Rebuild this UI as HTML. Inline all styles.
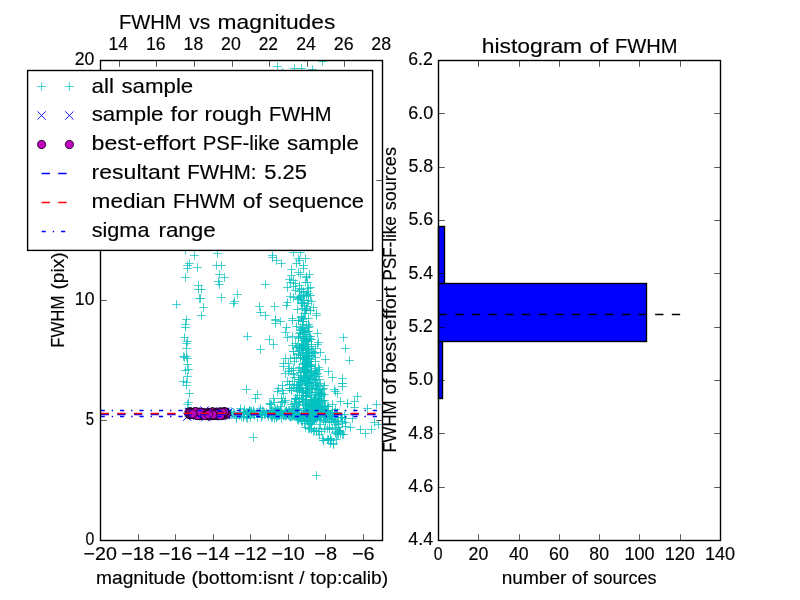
<!DOCTYPE html>
<html lang="en">
<head>
<meta charset="utf-8">
<title>FWHM vs magnitudes</title>
<style>
html,body{margin:0;padding:0;background:#fff;}
body{width:800px;height:600px;overflow:hidden;font-family:"Liberation Sans",sans-serif;}
svg{display:block;will-change:transform;}
svg text{font-family:"Liberation Sans",sans-serif;fill:#000;stroke:#000;stroke-width:0.15px;}
</style>
</head>
<body>
<svg width="800" height="600" viewBox="0 0 800 600">
<defs>
<clipPath id="clipL"><rect x="100.00" y="60.00" width="281.82" height="480.00"/></clipPath>
<path id="pl" d="M-4.3 0H4.3M0 -4.3V4.3" stroke="#00bfbf" stroke-width="1" stroke-opacity="0.72" fill="none"/>
<path id="xx" d="M-4.17 -4.17L4.17 4.17M-4.17 4.17L4.17 -4.17" stroke="#0000ff" stroke-width="0.9" fill="none"/>
<circle id="ci" r="4.17" fill="#bf00bf" stroke="#000" stroke-width="0.75"/>
</defs>
<rect width="800" height="600" fill="#fff"/>
<g id="left-axes">
<rect x="100.00" y="60.00" width="281.82" height="480.00" fill="#fff"/>
<g clip-path="url(#clipL)">
<use href="#pl" x="185.5" y="250.5"/><use href="#pl" x="194.5" y="255.5"/><use href="#pl" x="217.5" y="253.5"/><use href="#pl" x="189.5" y="263.5"/><use href="#pl" x="187.5" y="265.5"/><use href="#pl" x="187.5" y="268.5"/><use href="#pl" x="197.5" y="267.5"/><use href="#pl" x="216.5" y="265.5"/><use href="#pl" x="221.5" y="265.5"/><use href="#pl" x="185.5" y="277.5"/><use href="#pl" x="219.5" y="274.5"/><use href="#pl" x="224.5" y="277.5"/><use href="#pl" x="218.5" y="281.5"/><use href="#pl" x="219.5" y="284.5"/><use href="#pl" x="198.5" y="285.5"/><use href="#pl" x="198.5" y="289.5"/><use href="#pl" x="201.5" y="289.5"/><use href="#pl" x="200.5" y="298.5"/><use href="#pl" x="199.5" y="298.5"/><use href="#pl" x="221.5" y="297.5"/><use href="#pl" x="237.5" y="294.5"/><use href="#pl" x="234.5" y="301.5"/><use href="#pl" x="233.5" y="303.5"/><use href="#pl" x="176.5" y="304.5"/><use href="#pl" x="203.5" y="307.5"/><use href="#pl" x="201.5" y="315.5"/><use href="#pl" x="186.5" y="319.5"/><use href="#pl" x="185.5" y="324.5"/><use href="#pl" x="185.5" y="327.5"/><use href="#pl" x="184.5" y="337.5"/><use href="#pl" x="187.5" y="341.5"/><use href="#pl" x="186.5" y="343.5"/><use href="#pl" x="186.5" y="348.5"/><use href="#pl" x="183.5" y="356.5"/><use href="#pl" x="186.5" y="356.5"/><use href="#pl" x="247.5" y="336.5"/><use href="#pl" x="184.5" y="357.5"/><use href="#pl" x="187.5" y="358.5"/><use href="#pl" x="187.5" y="364.5"/><use href="#pl" x="188.5" y="369.5"/><use href="#pl" x="185.5" y="370.5"/><use href="#pl" x="187.5" y="376.5"/><use href="#pl" x="183.5" y="381.5"/><use href="#pl" x="186.5" y="382.5"/><use href="#pl" x="186.5" y="385.5"/><use href="#pl" x="189.5" y="393.5"/><use href="#pl" x="188.5" y="402.5"/><use href="#pl" x="187.5" y="404.5"/><use href="#pl" x="246.5" y="389.5"/><use href="#pl" x="272.5" y="255.5"/><use href="#pl" x="272.5" y="257.5"/><use href="#pl" x="276.5" y="260.5"/><use href="#pl" x="281.5" y="263.5"/><use href="#pl" x="265.5" y="284.5"/><use href="#pl" x="259.5" y="306.5"/><use href="#pl" x="274.5" y="306.5"/><use href="#pl" x="260.5" y="312.5"/><use href="#pl" x="265.5" y="315.5"/><use href="#pl" x="275.5" y="319.5"/><use href="#pl" x="290.5" y="296.5"/><use href="#pl" x="287.5" y="302.5"/><use href="#pl" x="286.5" y="305.5"/><use href="#pl" x="293.5" y="252.5"/><use href="#pl" x="300.5" y="252.5"/><use href="#pl" x="305.5" y="258.5"/><use href="#pl" x="298.5" y="258.5"/><use href="#pl" x="299.5" y="260.5"/><use href="#pl" x="296.5" y="263.5"/><use href="#pl" x="303.5" y="265.5"/><use href="#pl" x="303.5" y="268.5"/><use href="#pl" x="291.5" y="269.5"/><use href="#pl" x="298.5" y="272.5"/><use href="#pl" x="300.5" y="274.5"/><use href="#pl" x="291.5" y="275.5"/><use href="#pl" x="309.5" y="274.5"/><use href="#pl" x="306.5" y="276.5"/><use href="#pl" x="306.5" y="277.5"/><use href="#pl" x="289.5" y="279.5"/><use href="#pl" x="293.5" y="280.5"/><use href="#pl" x="290.5" y="282.5"/><use href="#pl" x="295.5" y="283.5"/><use href="#pl" x="307.5" y="282.5"/><use href="#pl" x="305.5" y="282.5"/><use href="#pl" x="299.5" y="285.5"/><use href="#pl" x="293.5" y="286.5"/><use href="#pl" x="287.5" y="287.5"/><use href="#pl" x="310.5" y="287.5"/><use href="#pl" x="295.5" y="290.5"/><use href="#pl" x="299.5" y="291.5"/><use href="#pl" x="303.5" y="291.5"/><use href="#pl" x="308.5" y="293.5"/><use href="#pl" x="301.5" y="295.5"/><use href="#pl" x="310.5" y="295.5"/><use href="#pl" x="306.5" y="296.5"/><use href="#pl" x="297.5" y="299.5"/><use href="#pl" x="303.5" y="300.5"/><use href="#pl" x="308.5" y="300.5"/><use href="#pl" x="311.5" y="301.5"/><use href="#pl" x="301.5" y="303.5"/><use href="#pl" x="304.5" y="305.5"/><use href="#pl" x="307.5" y="303.5"/><use href="#pl" x="297.5" y="309.5"/><use href="#pl" x="302.5" y="308.5"/><use href="#pl" x="305.5" y="310.5"/><use href="#pl" x="313.5" y="307.5"/><use href="#pl" x="310.5" y="310.5"/><use href="#pl" x="316.5" y="313.5"/><use href="#pl" x="305.5" y="313.5"/><use href="#pl" x="301.5" y="317.5"/><use href="#pl" x="308.5" y="318.5"/><use href="#pl" x="292.5" y="318.5"/><use href="#pl" x="275.5" y="320.5"/><use href="#pl" x="275.5" y="323.5"/><use href="#pl" x="280.5" y="321.5"/><use href="#pl" x="292.5" y="320.5"/><use href="#pl" x="316.5" y="315.5"/><use href="#pl" x="286.5" y="327.5"/><use href="#pl" x="285.5" y="332.5"/><use href="#pl" x="287.5" y="337.5"/><use href="#pl" x="292.5" y="336.5"/><use href="#pl" x="317.5" y="333.5"/><use href="#pl" x="269.5" y="339.5"/><use href="#pl" x="273.5" y="344.5"/><use href="#pl" x="260.5" y="349.5"/><use href="#pl" x="343.5" y="337.5"/><use href="#pl" x="345.5" y="348.5"/><use href="#pl" x="349.5" y="360.5"/><use href="#pl" x="342.5" y="378.5"/><use href="#pl" x="342.5" y="383.5"/><use href="#pl" x="332.5" y="377.5"/><use href="#pl" x="328.5" y="371.5"/><use href="#pl" x="325.5" y="359.5"/><use href="#pl" x="320.5" y="352.5"/><use href="#pl" x="293.5" y="351.5"/><use href="#pl" x="285.5" y="358.5"/><use href="#pl" x="283.5" y="363.5"/><use href="#pl" x="283.5" y="366.5"/><use href="#pl" x="288.5" y="363.5"/><use href="#pl" x="285.5" y="373.5"/><use href="#pl" x="293.5" y="373.5"/><use href="#pl" x="287.5" y="381.5"/><use href="#pl" x="282.5" y="385.5"/><use href="#pl" x="292.5" y="381.5"/><use href="#pl" x="278.5" y="388.5"/><use href="#pl" x="257.5" y="394.5"/><use href="#pl" x="255.5" y="398.5"/><use href="#pl" x="269.5" y="403.5"/><use href="#pl" x="253.5" y="437.5"/><use href="#pl" x="277.5" y="391.5"/><use href="#pl" x="282.5" y="390.5"/><use href="#pl" x="323.5" y="440.5"/><use href="#pl" x="333.5" y="443.5"/><use href="#pl" x="330.5" y="438.5"/><use href="#pl" x="343.5" y="434.5"/><use href="#pl" x="347.5" y="403.5"/><use href="#pl" x="342.5" y="386.5"/><use href="#pl" x="335.5" y="391.5"/><use href="#pl" x="305.5" y="427.5"/><use href="#pl" x="342.5" y="383.5"/><use href="#pl" x="334.5" y="389.5"/><use href="#pl" x="337.5" y="393.5"/><use href="#pl" x="357.5" y="396.5"/><use href="#pl" x="354.5" y="401.5"/><use href="#pl" x="347.5" y="403.5"/><use href="#pl" x="340.5" y="401.5"/><use href="#pl" x="354.5" y="407.5"/><use href="#pl" x="367.5" y="408.5"/><use href="#pl" x="376.5" y="404.5"/><use href="#pl" x="352.5" y="418.5"/><use href="#pl" x="374.5" y="422.5"/><use href="#pl" x="378.5" y="424.5"/><use href="#pl" x="371.5" y="429.5"/><use href="#pl" x="360.5" y="429.5"/><use href="#pl" x="365.5" y="433.5"/><use href="#pl" x="350.5" y="427.5"/><use href="#pl" x="345.5" y="426.5"/><use href="#pl" x="342.5" y="434.5"/><use href="#pl" x="340.5" y="433.5"/><use href="#pl" x="323.5" y="440.5"/><use href="#pl" x="333.5" y="444.5"/><use href="#pl" x="330.5" y="438.5"/><use href="#pl" x="342.5" y="421.5"/><use href="#pl" x="344.5" y="414.5"/><use href="#pl" x="316.5" y="475.5"/><use href="#pl" x="277.5" y="66.5"/><use href="#pl" x="282.5" y="72.5"/><use href="#pl" x="294.5" y="68.5"/><use href="#pl" x="301.5" y="68.5"/><use href="#pl" x="312.5" y="69.5"/><use href="#pl" x="322.5" y="61.5"/><use href="#pl" x="304.5" y="57.5"/><use href="#pl" x="311.5" y="364.5"/><use href="#pl" x="309.5" y="336.5"/><use href="#pl" x="307.5" y="381.5"/><use href="#pl" x="310.5" y="379.5"/><use href="#pl" x="302.5" y="330.5"/><use href="#pl" x="305.5" y="339.5"/><use href="#pl" x="309.5" y="373.5"/><use href="#pl" x="303.5" y="355.5"/><use href="#pl" x="317.5" y="388.5"/><use href="#pl" x="304.5" y="370.5"/><use href="#pl" x="326.5" y="410.5"/><use href="#pl" x="309.5" y="361.5"/><use href="#pl" x="308.5" y="346.5"/><use href="#pl" x="314.5" y="400.5"/><use href="#pl" x="299.5" y="350.5"/><use href="#pl" x="303.5" y="368.5"/><use href="#pl" x="310.5" y="382.5"/><use href="#pl" x="306.5" y="353.5"/><use href="#pl" x="303.5" y="392.5"/><use href="#pl" x="311.5" y="385.5"/><use href="#pl" x="304.5" y="375.5"/><use href="#pl" x="321.5" y="393.5"/><use href="#pl" x="300.5" y="357.5"/><use href="#pl" x="306.5" y="404.5"/><use href="#pl" x="305.5" y="395.5"/><use href="#pl" x="318.5" y="342.5"/><use href="#pl" x="307.5" y="372.5"/><use href="#pl" x="304.5" y="378.5"/><use href="#pl" x="300.5" y="330.5"/><use href="#pl" x="298.5" y="384.5"/><use href="#pl" x="306.5" y="404.5"/><use href="#pl" x="318.5" y="386.5"/><use href="#pl" x="296.5" y="385.5"/><use href="#pl" x="315.5" y="408.5"/><use href="#pl" x="306.5" y="377.5"/><use href="#pl" x="307.5" y="393.5"/><use href="#pl" x="322.5" y="389.5"/><use href="#pl" x="306.5" y="361.5"/><use href="#pl" x="306.5" y="370.5"/><use href="#pl" x="306.5" y="376.5"/><use href="#pl" x="306.5" y="349.5"/><use href="#pl" x="311.5" y="397.5"/><use href="#pl" x="305.5" y="344.5"/><use href="#pl" x="318.5" y="404.5"/><use href="#pl" x="298.5" y="337.5"/><use href="#pl" x="313.5" y="405.5"/><use href="#pl" x="314.5" y="401.5"/><use href="#pl" x="303.5" y="372.5"/><use href="#pl" x="318.5" y="367.5"/><use href="#pl" x="296.5" y="347.5"/><use href="#pl" x="305.5" y="350.5"/><use href="#pl" x="312.5" y="378.5"/><use href="#pl" x="308.5" y="385.5"/><use href="#pl" x="308.5" y="372.5"/><use href="#pl" x="293.5" y="368.5"/><use href="#pl" x="302.5" y="392.5"/><use href="#pl" x="301.5" y="380.5"/><use href="#pl" x="299.5" y="333.5"/><use href="#pl" x="313.5" y="406.5"/><use href="#pl" x="295.5" y="399.5"/><use href="#pl" x="305.5" y="370.5"/><use href="#pl" x="311.5" y="388.5"/><use href="#pl" x="306.5" y="334.5"/><use href="#pl" x="306.5" y="348.5"/><use href="#pl" x="307.5" y="366.5"/><use href="#pl" x="305.5" y="347.5"/><use href="#pl" x="303.5" y="340.5"/><use href="#pl" x="312.5" y="404.5"/><use href="#pl" x="312.5" y="387.5"/><use href="#pl" x="310.5" y="366.5"/><use href="#pl" x="315.5" y="368.5"/><use href="#pl" x="322.5" y="411.5"/><use href="#pl" x="305.5" y="376.5"/><use href="#pl" x="304.5" y="340.5"/><use href="#pl" x="306.5" y="366.5"/><use href="#pl" x="315.5" y="348.5"/><use href="#pl" x="308.5" y="327.5"/><use href="#pl" x="303.5" y="346.5"/><use href="#pl" x="316.5" y="382.5"/><use href="#pl" x="312.5" y="410.5"/><use href="#pl" x="308.5" y="403.5"/><use href="#pl" x="302.5" y="368.5"/><use href="#pl" x="306.5" y="348.5"/><use href="#pl" x="301.5" y="398.5"/><use href="#pl" x="308.5" y="365.5"/><use href="#pl" x="325.5" y="411.5"/><use href="#pl" x="315.5" y="403.5"/><use href="#pl" x="297.5" y="395.5"/><use href="#pl" x="300.5" y="355.5"/><use href="#pl" x="303.5" y="328.5"/><use href="#pl" x="302.5" y="328.5"/><use href="#pl" x="315.5" y="392.5"/><use href="#pl" x="293.5" y="409.5"/><use href="#pl" x="317.5" y="411.5"/><use href="#pl" x="307.5" y="409.5"/><use href="#pl" x="308.5" y="355.5"/><use href="#pl" x="307.5" y="352.5"/><use href="#pl" x="321.5" y="406.5"/><use href="#pl" x="299.5" y="402.5"/><use href="#pl" x="311.5" y="399.5"/><use href="#pl" x="298.5" y="338.5"/><use href="#pl" x="296.5" y="398.5"/><use href="#pl" x="305.5" y="396.5"/><use href="#pl" x="310.5" y="399.5"/><use href="#pl" x="311.5" y="365.5"/><use href="#pl" x="291.5" y="370.5"/><use href="#pl" x="316.5" y="371.5"/><use href="#pl" x="302.5" y="349.5"/><use href="#pl" x="311.5" y="344.5"/><use href="#pl" x="323.5" y="400.5"/><use href="#pl" x="311.5" y="346.5"/><use href="#pl" x="291.5" y="390.5"/><use href="#pl" x="304.5" y="367.5"/><use href="#pl" x="302.5" y="324.5"/><use href="#pl" x="305.5" y="410.5"/><use href="#pl" x="303.5" y="408.5"/><use href="#pl" x="316.5" y="374.5"/><use href="#pl" x="298.5" y="353.5"/><use href="#pl" x="305.5" y="357.5"/><use href="#pl" x="313.5" y="385.5"/><use href="#pl" x="303.5" y="358.5"/><use href="#pl" x="312.5" y="406.5"/><use href="#pl" x="299.5" y="367.5"/><use href="#pl" x="313.5" y="406.5"/><use href="#pl" x="314.5" y="372.5"/><use href="#pl" x="304.5" y="381.5"/><use href="#pl" x="315.5" y="380.5"/><use href="#pl" x="306.5" y="350.5"/><use href="#pl" x="303.5" y="321.5"/><use href="#pl" x="304.5" y="377.5"/><use href="#pl" x="303.5" y="395.5"/><use href="#pl" x="306.5" y="380.5"/><use href="#pl" x="309.5" y="383.5"/><use href="#pl" x="305.5" y="383.5"/><use href="#pl" x="304.5" y="357.5"/><use href="#pl" x="319.5" y="379.5"/><use href="#pl" x="309.5" y="383.5"/><use href="#pl" x="293.5" y="374.5"/><use href="#pl" x="300.5" y="387.5"/><use href="#pl" x="309.5" y="392.5"/><use href="#pl" x="300.5" y="375.5"/><use href="#pl" x="309.5" y="408.5"/><use href="#pl" x="321.5" y="393.5"/><use href="#pl" x="296.5" y="358.5"/><use href="#pl" x="320.5" y="383.5"/><use href="#pl" x="301.5" y="345.5"/><use href="#pl" x="303.5" y="343.5"/><use href="#pl" x="306.5" y="356.5"/><use href="#pl" x="300.5" y="336.5"/><use href="#pl" x="298.5" y="405.5"/><use href="#pl" x="303.5" y="347.5"/><use href="#pl" x="297.5" y="346.5"/><use href="#pl" x="316.5" y="405.5"/><use href="#pl" x="310.5" y="409.5"/><use href="#pl" x="288.5" y="371.5"/><use href="#pl" x="312.5" y="401.5"/><use href="#pl" x="299.5" y="348.5"/><use href="#pl" x="310.5" y="366.5"/><use href="#pl" x="302.5" y="352.5"/><use href="#pl" x="309.5" y="326.5"/><use href="#pl" x="307.5" y="383.5"/><use href="#pl" x="307.5" y="365.5"/><use href="#pl" x="306.5" y="388.5"/><use href="#pl" x="311.5" y="411.5"/><use href="#pl" x="313.5" y="399.5"/><use href="#pl" x="305.5" y="359.5"/><use href="#pl" x="304.5" y="330.5"/><use href="#pl" x="301.5" y="344.5"/><use href="#pl" x="317.5" y="373.5"/><use href="#pl" x="300.5" y="358.5"/><use href="#pl" x="311.5" y="346.5"/><use href="#pl" x="305.5" y="393.5"/><use href="#pl" x="311.5" y="339.5"/><use href="#pl" x="311.5" y="373.5"/><use href="#pl" x="310.5" y="336.5"/><use href="#pl" x="306.5" y="399.5"/><use href="#pl" x="305.5" y="338.5"/><use href="#pl" x="308.5" y="403.5"/><use href="#pl" x="303.5" y="375.5"/><use href="#pl" x="319.5" y="407.5"/><use href="#pl" x="311.5" y="359.5"/><use href="#pl" x="311.5" y="356.5"/><use href="#pl" x="305.5" y="341.5"/><use href="#pl" x="307.5" y="352.5"/><use href="#pl" x="303.5" y="363.5"/><use href="#pl" x="315.5" y="361.5"/><use href="#pl" x="310.5" y="379.5"/><use href="#pl" x="306.5" y="325.5"/><use href="#pl" x="315.5" y="357.5"/><use href="#pl" x="309.5" y="382.5"/><use href="#pl" x="293.5" y="351.5"/><use href="#pl" x="306.5" y="341.5"/><use href="#pl" x="302.5" y="401.5"/><use href="#pl" x="314.5" y="402.5"/><use href="#pl" x="298.5" y="370.5"/><use href="#pl" x="310.5" y="410.5"/><use href="#pl" x="311.5" y="366.5"/><use href="#pl" x="299.5" y="389.5"/><use href="#pl" x="306.5" y="371.5"/><use href="#pl" x="306.5" y="344.5"/><use href="#pl" x="304.5" y="336.5"/><use href="#pl" x="301.5" y="348.5"/><use href="#pl" x="309.5" y="338.5"/><use href="#pl" x="297.5" y="391.5"/><use href="#pl" x="306.5" y="360.5"/><use href="#pl" x="313.5" y="376.5"/><use href="#pl" x="301.5" y="347.5"/><use href="#pl" x="313.5" y="409.5"/><use href="#pl" x="305.5" y="410.5"/><use href="#pl" x="309.5" y="409.5"/><use href="#pl" x="306.5" y="363.5"/><use href="#pl" x="307.5" y="369.5"/><use href="#pl" x="303.5" y="377.5"/><use href="#pl" x="308.5" y="379.5"/><use href="#pl" x="302.5" y="321.5"/><use href="#pl" x="310.5" y="371.5"/><use href="#pl" x="307.5" y="331.5"/><use href="#pl" x="306.5" y="356.5"/><use href="#pl" x="297.5" y="385.5"/><use href="#pl" x="307.5" y="390.5"/><use href="#pl" x="314.5" y="394.5"/><use href="#pl" x="302.5" y="364.5"/><use href="#pl" x="318.5" y="411.5"/><use href="#pl" x="318.5" y="389.5"/><use href="#pl" x="308.5" y="331.5"/><use href="#pl" x="296.5" y="388.5"/><use href="#pl" x="311.5" y="395.5"/><use href="#pl" x="305.5" y="380.5"/><use href="#pl" x="314.5" y="379.5"/><use href="#pl" x="298.5" y="401.5"/><use href="#pl" x="316.5" y="385.5"/><use href="#pl" x="302.5" y="392.5"/><use href="#pl" x="308.5" y="355.5"/><use href="#pl" x="307.5" y="367.5"/><use href="#pl" x="307.5" y="341.5"/><use href="#pl" x="301.5" y="388.5"/><use href="#pl" x="305.5" y="388.5"/><use href="#pl" x="298.5" y="320.5"/><use href="#pl" x="310.5" y="399.5"/><use href="#pl" x="300.5" y="381.5"/><use href="#pl" x="319.5" y="390.5"/><use href="#pl" x="309.5" y="358.5"/><use href="#pl" x="303.5" y="336.5"/><use href="#pl" x="314.5" y="353.5"/><use href="#pl" x="318.5" y="395.5"/><use href="#pl" x="306.5" y="369.5"/><use href="#pl" x="303.5" y="377.5"/><use href="#pl" x="298.5" y="387.5"/><use href="#pl" x="312.5" y="389.5"/><use href="#pl" x="307.5" y="358.5"/><use href="#pl" x="306.5" y="396.5"/><use href="#pl" x="308.5" y="324.5"/><use href="#pl" x="303.5" y="334.5"/><use href="#pl" x="320.5" y="392.5"/><use href="#pl" x="307.5" y="391.5"/><use href="#pl" x="315.5" y="376.5"/><use href="#pl" x="318.5" y="376.5"/><use href="#pl" x="313.5" y="352.5"/><use href="#pl" x="312.5" y="410.5"/><use href="#pl" x="307.5" y="376.5"/><use href="#pl" x="318.5" y="401.5"/><use href="#pl" x="305.5" y="359.5"/><use href="#pl" x="309.5" y="353.5"/><use href="#pl" x="307.5" y="385.5"/><use href="#pl" x="292.5" y="345.5"/><use href="#pl" x="303.5" y="344.5"/><use href="#pl" x="294.5" y="401.5"/><use href="#pl" x="308.5" y="393.5"/><use href="#pl" x="311.5" y="355.5"/><use href="#pl" x="300.5" y="327.5"/><use href="#pl" x="298.5" y="320.5"/><use href="#pl" x="307.5" y="362.5"/><use href="#pl" x="302.5" y="345.5"/><use href="#pl" x="316.5" y="402.5"/><use href="#pl" x="302.5" y="319.5"/><use href="#pl" x="295.5" y="343.5"/><use href="#pl" x="307.5" y="407.5"/><use href="#pl" x="294.5" y="361.5"/><use href="#pl" x="289.5" y="368.5"/><use href="#pl" x="324.5" y="385.5"/><use href="#pl" x="302.5" y="367.5"/><use href="#pl" x="305.5" y="332.5"/><use href="#pl" x="306.5" y="340.5"/><use href="#pl" x="305.5" y="408.5"/><use href="#pl" x="305.5" y="357.5"/><use href="#pl" x="312.5" y="351.5"/><use href="#pl" x="319.5" y="369.5"/><use href="#pl" x="306.5" y="400.5"/><use href="#pl" x="323.5" y="388.5"/><use href="#pl" x="300.5" y="382.5"/><use href="#pl" x="320.5" y="394.5"/><use href="#pl" x="311.5" y="375.5"/><use href="#pl" x="306.5" y="396.5"/><use href="#pl" x="300.5" y="332.5"/><use href="#pl" x="317.5" y="407.5"/><use href="#pl" x="311.5" y="366.5"/><use href="#pl" x="305.5" y="362.5"/><use href="#pl" x="290.5" y="358.5"/><use href="#pl" x="306.5" y="390.5"/><use href="#pl" x="315.5" y="370.5"/><use href="#pl" x="307.5" y="349.5"/><use href="#pl" x="315.5" y="406.5"/><use href="#pl" x="310.5" y="378.5"/><use href="#pl" x="328.5" y="411.5"/><use href="#pl" x="310.5" y="375.5"/><use href="#pl" x="306.5" y="339.5"/><use href="#pl" x="310.5" y="366.5"/><use href="#pl" x="308.5" y="358.5"/><use href="#pl" x="317.5" y="384.5"/><use href="#pl" x="300.5" y="372.5"/><use href="#pl" x="301.5" y="372.5"/><use href="#pl" x="306.5" y="365.5"/><use href="#pl" x="302.5" y="334.5"/><use href="#pl" x="317.5" y="344.5"/><use href="#pl" x="299.5" y="379.5"/><use href="#pl" x="298.5" y="354.5"/><use href="#pl" x="306.5" y="359.5"/><use href="#pl" x="314.5" y="374.5"/><use href="#pl" x="320.5" y="409.5"/><use href="#pl" x="296.5" y="326.5"/><use href="#pl" x="301.5" y="329.5"/><use href="#pl" x="294.5" y="377.5"/><use href="#pl" x="315.5" y="385.5"/><use href="#pl" x="311.5" y="407.5"/><use href="#pl" x="322.5" y="401.5"/><use href="#pl" x="294.5" y="357.5"/><use href="#pl" x="308.5" y="341.5"/><use href="#pl" x="316.5" y="392.5"/><use href="#pl" x="309.5" y="408.5"/><use href="#pl" x="299.5" y="397.5"/><use href="#pl" x="302.5" y="302.5"/><use href="#pl" x="304.5" y="313.5"/><use href="#pl" x="308.5" y="295.5"/><use href="#pl" x="300.5" y="297.5"/><use href="#pl" x="303.5" y="292.5"/><use href="#pl" x="310.5" y="310.5"/><use href="#pl" x="307.5" y="291.5"/><use href="#pl" x="306.5" y="306.5"/><use href="#pl" x="304.5" y="300.5"/><use href="#pl" x="308.5" y="288.5"/><use href="#pl" x="293.5" y="297.5"/><use href="#pl" x="306.5" y="308.5"/><use href="#pl" x="301.5" y="316.5"/><use href="#pl" x="303.5" y="295.5"/><use href="#pl" x="303.5" y="318.5"/><use href="#pl" x="299.5" y="288.5"/><use href="#pl" x="301.5" y="303.5"/><use href="#pl" x="299.5" y="296.5"/><use href="#pl" x="306.5" y="309.5"/><use href="#pl" x="301.5" y="289.5"/><use href="#pl" x="298.5" y="298.5"/><use href="#pl" x="306.5" y="294.5"/><use href="#pl" x="318.5" y="413.5"/><use href="#pl" x="274.5" y="411.5"/><use href="#pl" x="334.5" y="412.5"/><use href="#pl" x="276.5" y="417.5"/><use href="#pl" x="276.5" y="414.5"/><use href="#pl" x="332.5" y="412.5"/><use href="#pl" x="299.5" y="414.5"/><use href="#pl" x="293.5" y="415.5"/><use href="#pl" x="310.5" y="415.5"/><use href="#pl" x="291.5" y="413.5"/><use href="#pl" x="275.5" y="415.5"/><use href="#pl" x="251.5" y="413.5"/><use href="#pl" x="253.5" y="410.5"/><use href="#pl" x="324.5" y="417.5"/><use href="#pl" x="314.5" y="419.5"/><use href="#pl" x="286.5" y="413.5"/><use href="#pl" x="272.5" y="417.5"/><use href="#pl" x="246.5" y="412.5"/><use href="#pl" x="310.5" y="412.5"/><use href="#pl" x="286.5" y="415.5"/><use href="#pl" x="270.5" y="415.5"/><use href="#pl" x="288.5" y="414.5"/><use href="#pl" x="332.5" y="418.5"/><use href="#pl" x="274.5" y="418.5"/><use href="#pl" x="288.5" y="415.5"/><use href="#pl" x="294.5" y="410.5"/><use href="#pl" x="251.5" y="411.5"/><use href="#pl" x="328.5" y="414.5"/><use href="#pl" x="272.5" y="410.5"/><use href="#pl" x="246.5" y="417.5"/><use href="#pl" x="293.5" y="415.5"/><use href="#pl" x="249.5" y="410.5"/><use href="#pl" x="247.5" y="418.5"/><use href="#pl" x="279.5" y="415.5"/><use href="#pl" x="315.5" y="415.5"/><use href="#pl" x="281.5" y="412.5"/><use href="#pl" x="332.5" y="412.5"/><use href="#pl" x="313.5" y="412.5"/><use href="#pl" x="285.5" y="413.5"/><use href="#pl" x="315.5" y="414.5"/><use href="#pl" x="327.5" y="410.5"/><use href="#pl" x="244.5" y="409.5"/><use href="#pl" x="277.5" y="408.5"/><use href="#pl" x="332.5" y="414.5"/><use href="#pl" x="291.5" y="413.5"/><use href="#pl" x="299.5" y="416.5"/><use href="#pl" x="329.5" y="415.5"/><use href="#pl" x="314.5" y="417.5"/><use href="#pl" x="320.5" y="414.5"/><use href="#pl" x="286.5" y="410.5"/><use href="#pl" x="285.5" y="411.5"/><use href="#pl" x="257.5" y="417.5"/><use href="#pl" x="273.5" y="414.5"/><use href="#pl" x="254.5" y="412.5"/><use href="#pl" x="247.5" y="412.5"/><use href="#pl" x="336.5" y="413.5"/><use href="#pl" x="324.5" y="415.5"/><use href="#pl" x="257.5" y="413.5"/><use href="#pl" x="260.5" y="410.5"/><use href="#pl" x="295.5" y="414.5"/><use href="#pl" x="277.5" y="411.5"/><use href="#pl" x="311.5" y="415.5"/><use href="#pl" x="315.5" y="415.5"/><use href="#pl" x="263.5" y="411.5"/><use href="#pl" x="321.5" y="413.5"/><use href="#pl" x="289.5" y="416.5"/><use href="#pl" x="314.5" y="414.5"/><use href="#pl" x="278.5" y="415.5"/><use href="#pl" x="268.5" y="416.5"/><use href="#pl" x="286.5" y="411.5"/><use href="#pl" x="291.5" y="416.5"/><use href="#pl" x="277.5" y="413.5"/><use href="#pl" x="319.5" y="409.5"/><use href="#pl" x="260.5" y="408.5"/><use href="#pl" x="297.5" y="415.5"/><use href="#pl" x="327.5" y="410.5"/><use href="#pl" x="249.5" y="413.5"/><use href="#pl" x="272.5" y="415.5"/><use href="#pl" x="335.5" y="409.5"/><use href="#pl" x="289.5" y="411.5"/><use href="#pl" x="323.5" y="412.5"/><use href="#pl" x="317.5" y="414.5"/><use href="#pl" x="331.5" y="416.5"/><use href="#pl" x="307.5" y="415.5"/><use href="#pl" x="275.5" y="413.5"/><use href="#pl" x="274.5" y="414.5"/><use href="#pl" x="279.5" y="411.5"/><use href="#pl" x="274.5" y="412.5"/><use href="#pl" x="239.5" y="412.5"/><use href="#pl" x="271.5" y="417.5"/><use href="#pl" x="284.5" y="415.5"/><use href="#pl" x="302.5" y="417.5"/><use href="#pl" x="254.5" y="415.5"/><use href="#pl" x="303.5" y="415.5"/><use href="#pl" x="308.5" y="415.5"/><use href="#pl" x="312.5" y="414.5"/><use href="#pl" x="292.5" y="413.5"/><use href="#pl" x="332.5" y="415.5"/><use href="#pl" x="284.5" y="412.5"/><use href="#pl" x="293.5" y="413.5"/><use href="#pl" x="323.5" y="416.5"/><use href="#pl" x="273.5" y="413.5"/><use href="#pl" x="314.5" y="414.5"/><use href="#pl" x="326.5" y="414.5"/><use href="#pl" x="294.5" y="415.5"/><use href="#pl" x="324.5" y="411.5"/><use href="#pl" x="296.5" y="414.5"/><use href="#pl" x="303.5" y="414.5"/><use href="#pl" x="308.5" y="414.5"/><use href="#pl" x="307.5" y="413.5"/><use href="#pl" x="289.5" y="412.5"/><use href="#pl" x="282.5" y="413.5"/><use href="#pl" x="301.5" y="414.5"/><use href="#pl" x="298.5" y="413.5"/><use href="#pl" x="318.5" y="415.5"/><use href="#pl" x="264.5" y="413.5"/><use href="#pl" x="330.5" y="416.5"/><use href="#pl" x="252.5" y="413.5"/><use href="#pl" x="328.5" y="410.5"/><use href="#pl" x="307.5" y="417.5"/><use href="#pl" x="320.5" y="416.5"/><use href="#pl" x="276.5" y="417.5"/><use href="#pl" x="292.5" y="416.5"/><use href="#pl" x="271.5" y="410.5"/><use href="#pl" x="275.5" y="411.5"/><use href="#pl" x="290.5" y="415.5"/><use href="#pl" x="264.5" y="414.5"/><use href="#pl" x="326.5" y="417.5"/><use href="#pl" x="249.5" y="410.5"/><use href="#pl" x="248.5" y="412.5"/><use href="#pl" x="321.5" y="416.5"/><use href="#pl" x="303.5" y="416.5"/><use href="#pl" x="308.5" y="413.5"/><use href="#pl" x="305.5" y="416.5"/><use href="#pl" x="294.5" y="412.5"/><use href="#pl" x="295.5" y="411.5"/><use href="#pl" x="244.5" y="412.5"/><use href="#pl" x="277.5" y="412.5"/><use href="#pl" x="316.5" y="414.5"/><use href="#pl" x="271.5" y="411.5"/><use href="#pl" x="297.5" y="414.5"/><use href="#pl" x="294.5" y="414.5"/><use href="#pl" x="259.5" y="411.5"/><use href="#pl" x="249.5" y="414.5"/><use href="#pl" x="308.5" y="417.5"/><use href="#pl" x="317.5" y="415.5"/><use href="#pl" x="300.5" y="416.5"/><use href="#pl" x="290.5" y="414.5"/><use href="#pl" x="331.5" y="416.5"/><use href="#pl" x="341.5" y="417.5"/><use href="#pl" x="314.5" y="414.5"/><use href="#pl" x="337.5" y="412.5"/><use href="#pl" x="299.5" y="418.5"/><use href="#pl" x="269.5" y="412.5"/><use href="#pl" x="317.5" y="414.5"/><use href="#pl" x="288.5" y="413.5"/><use href="#pl" x="315.5" y="416.5"/><use href="#pl" x="281.5" y="418.5"/><use href="#pl" x="319.5" y="415.5"/><use href="#pl" x="328.5" y="416.5"/><use href="#pl" x="274.5" y="413.5"/><use href="#pl" x="285.5" y="416.5"/><use href="#pl" x="248.5" y="414.5"/><use href="#pl" x="330.5" y="415.5"/><use href="#pl" x="311.5" y="415.5"/><use href="#pl" x="317.5" y="413.5"/><use href="#pl" x="262.5" y="410.5"/><use href="#pl" x="288.5" y="413.5"/><use href="#pl" x="323.5" y="411.5"/><use href="#pl" x="324.5" y="412.5"/><use href="#pl" x="261.5" y="417.5"/><use href="#pl" x="291.5" y="413.5"/><use href="#pl" x="318.5" y="413.5"/><use href="#pl" x="304.5" y="420.5"/><use href="#pl" x="288.5" y="414.5"/><use href="#pl" x="270.5" y="411.5"/><use href="#pl" x="315.5" y="418.5"/><use href="#pl" x="279.5" y="415.5"/><use href="#pl" x="308.5" y="417.5"/><use href="#pl" x="310.5" y="413.5"/><use href="#pl" x="284.5" y="414.5"/><use href="#pl" x="267.5" y="414.5"/><use href="#pl" x="307.5" y="411.5"/><use href="#pl" x="325.5" y="415.5"/><use href="#pl" x="265.5" y="414.5"/><use href="#pl" x="243.5" y="417.5"/><use href="#pl" x="234.5" y="413.5"/><use href="#pl" x="288.5" y="414.5"/><use href="#pl" x="276.5" y="411.5"/><use href="#pl" x="274.5" y="412.5"/><use href="#pl" x="307.5" y="412.5"/><use href="#pl" x="330.5" y="414.5"/><use href="#pl" x="278.5" y="414.5"/><use href="#pl" x="308.5" y="414.5"/><use href="#pl" x="323.5" y="414.5"/><use href="#pl" x="280.5" y="411.5"/><use href="#pl" x="239.5" y="412.5"/><use href="#pl" x="288.5" y="411.5"/><use href="#pl" x="309.5" y="408.5"/><use href="#pl" x="314.5" y="415.5"/><use href="#pl" x="278.5" y="414.5"/><use href="#pl" x="301.5" y="413.5"/><use href="#pl" x="292.5" y="414.5"/><use href="#pl" x="317.5" y="414.5"/><use href="#pl" x="240.5" y="408.5"/><use href="#pl" x="266.5" y="412.5"/><use href="#pl" x="273.5" y="411.5"/><use href="#pl" x="309.5" y="412.5"/><use href="#pl" x="319.5" y="414.5"/><use href="#pl" x="283.5" y="415.5"/><use href="#pl" x="250.5" y="417.5"/><use href="#pl" x="313.5" y="411.5"/><use href="#pl" x="236.5" y="416.5"/><use href="#pl" x="297.5" y="410.5"/><use href="#pl" x="315.5" y="412.5"/><use href="#pl" x="261.5" y="414.5"/><use href="#pl" x="277.5" y="416.5"/><use href="#pl" x="315.5" y="414.5"/><use href="#pl" x="312.5" y="416.5"/><use href="#pl" x="280.5" y="411.5"/><use href="#pl" x="303.5" y="410.5"/><use href="#pl" x="301.5" y="415.5"/><use href="#pl" x="280.5" y="410.5"/><use href="#pl" x="275.5" y="409.5"/><use href="#pl" x="324.5" y="415.5"/><use href="#pl" x="277.5" y="414.5"/><use href="#pl" x="315.5" y="417.5"/><use href="#pl" x="286.5" y="412.5"/><use href="#pl" x="324.5" y="413.5"/><use href="#pl" x="327.5" y="415.5"/><use href="#pl" x="273.5" y="412.5"/><use href="#pl" x="298.5" y="410.5"/><use href="#pl" x="262.5" y="415.5"/><use href="#pl" x="289.5" y="411.5"/><use href="#pl" x="260.5" y="413.5"/><use href="#pl" x="250.5" y="411.5"/><use href="#pl" x="244.5" y="413.5"/><use href="#pl" x="293.5" y="413.5"/><use href="#pl" x="239.5" y="415.5"/><use href="#pl" x="294.5" y="414.5"/><use href="#pl" x="253.5" y="414.5"/><use href="#pl" x="231.5" y="414.5"/><use href="#pl" x="278.5" y="411.5"/><use href="#pl" x="281.5" y="411.5"/><use href="#pl" x="233.5" y="412.5"/><use href="#pl" x="287.5" y="412.5"/><use href="#pl" x="287.5" y="414.5"/><use href="#pl" x="290.5" y="413.5"/><use href="#pl" x="293.5" y="414.5"/><use href="#pl" x="243.5" y="413.5"/><use href="#pl" x="236.5" y="418.5"/><use href="#pl" x="286.5" y="414.5"/><use href="#pl" x="274.5" y="415.5"/><use href="#pl" x="249.5" y="411.5"/><use href="#pl" x="236.5" y="417.5"/><use href="#pl" x="243.5" y="416.5"/><use href="#pl" x="251.5" y="413.5"/><use href="#pl" x="247.5" y="414.5"/><use href="#pl" x="249.5" y="413.5"/><use href="#pl" x="251.5" y="411.5"/><use href="#pl" x="297.5" y="409.5"/><use href="#pl" x="272.5" y="413.5"/><use href="#pl" x="231.5" y="411.5"/><use href="#pl" x="283.5" y="415.5"/><use href="#pl" x="253.5" y="413.5"/><use href="#pl" x="244.5" y="411.5"/><use href="#pl" x="290.5" y="417.5"/><use href="#pl" x="241.5" y="416.5"/><use href="#pl" x="229.5" y="415.5"/><use href="#pl" x="298.5" y="417.5"/><use href="#pl" x="284.5" y="402.5"/><use href="#pl" x="291.5" y="390.5"/><use href="#pl" x="295.5" y="398.5"/><use href="#pl" x="289.5" y="384.5"/><use href="#pl" x="280.5" y="406.5"/><use href="#pl" x="299.5" y="390.5"/><use href="#pl" x="298.5" y="379.5"/><use href="#pl" x="285.5" y="400.5"/><use href="#pl" x="289.5" y="384.5"/><use href="#pl" x="271.5" y="404.5"/><use href="#pl" x="282.5" y="401.5"/><use href="#pl" x="298.5" y="379.5"/><use href="#pl" x="302.5" y="399.5"/><use href="#pl" x="302.5" y="402.5"/><use href="#pl" x="295.5" y="398.5"/><use href="#pl" x="289.5" y="388.5"/><use href="#pl" x="299.5" y="387.5"/><use href="#pl" x="293.5" y="387.5"/><use href="#pl" x="292.5" y="406.5"/><use href="#pl" x="291.5" y="404.5"/><use href="#pl" x="289.5" y="388.5"/><use href="#pl" x="281.5" y="402.5"/><use href="#pl" x="294.5" y="385.5"/><use href="#pl" x="273.5" y="398.5"/><use href="#pl" x="302.5" y="384.5"/><use href="#pl" x="281.5" y="398.5"/><use href="#pl" x="293.5" y="408.5"/><use href="#pl" x="274.5" y="402.5"/><use href="#pl" x="294.5" y="403.5"/><use href="#pl" x="283.5" y="393.5"/><use href="#pl" x="296.5" y="403.5"/><use href="#pl" x="270.5" y="404.5"/><use href="#pl" x="338.5" y="424.5"/><use href="#pl" x="308.5" y="428.5"/><use href="#pl" x="310.5" y="423.5"/><use href="#pl" x="319.5" y="428.5"/><use href="#pl" x="338.5" y="417.5"/><use href="#pl" x="327.5" y="416.5"/><use href="#pl" x="308.5" y="419.5"/><use href="#pl" x="337.5" y="421.5"/><use href="#pl" x="322.5" y="438.5"/><use href="#pl" x="340.5" y="432.5"/><use href="#pl" x="307.5" y="420.5"/><use href="#pl" x="338.5" y="427.5"/><use href="#pl" x="344.5" y="418.5"/><use href="#pl" x="327.5" y="416.5"/><use href="#pl" x="330.5" y="443.5"/><use href="#pl" x="314.5" y="430.5"/><use href="#pl" x="334.5" y="422.5"/><use href="#pl" x="316.5" y="431.5"/><use href="#pl" x="328.5" y="439.5"/><use href="#pl" x="311.5" y="424.5"/><use href="#pl" x="327.5" y="439.5"/><use href="#pl" x="301.5" y="421.5"/><use href="#pl" x="335.5" y="432.5"/><use href="#pl" x="311.5" y="428.5"/><use href="#pl" x="342.5" y="417.5"/><use href="#pl" x="297.5" y="419.5"/><use href="#pl" x="318.5" y="416.5"/><use href="#pl" x="316.5" y="419.5"/><use href="#pl" x="306.5" y="420.5"/><use href="#pl" x="302.5" y="416.5"/><use href="#pl" x="305.5" y="417.5"/><use href="#pl" x="331.5" y="416.5"/><use href="#pl" x="328.5" y="440.5"/><use href="#pl" x="320.5" y="417.5"/><use href="#pl" x="324.5" y="429.5"/><use href="#pl" x="327.5" y="428.5"/><use href="#pl" x="335.5" y="433.5"/><use href="#pl" x="331.5" y="440.5"/><use href="#pl" x="337.5" y="434.5"/><use href="#pl" x="336.5" y="424.5"/><use href="#pl" x="309.5" y="428.5"/><use href="#pl" x="313.5" y="418.5"/><use href="#pl" x="335.5" y="422.5"/><use href="#pl" x="342.5" y="423.5"/><use href="#pl" x="329.5" y="429.5"/><use href="#pl" x="335.5" y="429.5"/><use href="#pl" x="336.5" y="439.5"/><use href="#pl" x="340.5" y="431.5"/><use href="#pl" x="325.5" y="421.5"/><use href="#pl" x="316.5" y="431.5"/><use href="#pl" x="314.5" y="419.5"/><use href="#pl" x="335.5" y="420.5"/><use href="#pl" x="313.5" y="431.5"/><use href="#pl" x="339.5" y="430.5"/><use href="#pl" x="308.5" y="417.5"/><use href="#pl" x="305.5" y="418.5"/><use href="#pl" x="341.5" y="417.5"/><use href="#pl" x="329.5" y="427.5"/><use href="#pl" x="345.5" y="422.5"/><use href="#pl" x="298.5" y="420.5"/><use href="#pl" x="333.5" y="419.5"/><use href="#pl" x="308.5" y="419.5"/><use href="#pl" x="304.5" y="423.5"/><use href="#pl" x="329.5" y="416.5"/><use href="#pl" x="305.5" y="417.5"/><use href="#pl" x="338.5" y="434.5"/><use href="#pl" x="319.5" y="434.5"/><use href="#pl" x="307.5" y="417.5"/><use href="#pl" x="323.5" y="420.5"/><use href="#pl" x="309.5" y="428.5"/><use href="#pl" x="312.5" y="421.5"/><use href="#pl" x="329.5" y="422.5"/><use href="#pl" x="310.5" y="423.5"/><use href="#pl" x="340.5" y="417.5"/><use href="#pl" x="313.5" y="420.5"/><use href="#pl" x="337.5" y="431.5"/><use href="#pl" x="302.5" y="421.5"/><use href="#pl" x="331.5" y="421.5"/><use href="#pl" x="320.5" y="424.5"/><use href="#pl" x="325.5" y="422.5"/><use href="#pl" x="332.5" y="428.5"/><use href="#pl" x="339.5" y="430.5"/><use href="#pl" x="309.5" y="421.5"/><use href="#pl" x="314.5" y="420.5"/><use href="#pl" x="325.5" y="416.5"/><use href="#pl" x="318.5" y="431.5"/><use href="#pl" x="321.5" y="431.5"/><use href="#pl" x="307.5" y="421.5"/><use href="#pl" x="297.5" y="418.5"/><use href="#pl" x="305.5" y="416.5"/><use href="#pl" x="307.5" y="405.5"/><use href="#pl" x="314.5" y="405.5"/><use href="#pl" x="324.5" y="400.5"/><use href="#pl" x="319.5" y="410.5"/><use href="#pl" x="307.5" y="409.5"/><use href="#pl" x="315.5" y="412.5"/><use href="#pl" x="312.5" y="411.5"/><use href="#pl" x="303.5" y="401.5"/><use href="#pl" x="321.5" y="416.5"/><use href="#pl" x="315.5" y="404.5"/><use href="#pl" x="324.5" y="394.5"/><use href="#pl" x="310.5" y="413.5"/><use href="#pl" x="320.5" y="401.5"/><use href="#pl" x="301.5" y="419.5"/><use href="#pl" x="317.5" y="402.5"/><use href="#pl" x="316.5" y="415.5"/><use href="#pl" x="296.5" y="416.5"/><use href="#pl" x="321.5" y="394.5"/><use href="#pl" x="321.5" y="396.5"/><use href="#pl" x="324.5" y="411.5"/><use href="#pl" x="332.5" y="404.5"/><use href="#pl" x="316.5" y="416.5"/><use href="#pl" x="311.5" y="404.5"/><use href="#pl" x="313.5" y="408.5"/><use href="#pl" x="307.5" y="412.5"/><use href="#pl" x="320.5" y="409.5"/><use href="#pl" x="328.5" y="406.5"/><use href="#pl" x="325.5" y="405.5"/><use href="#pl" x="321.5" y="395.5"/><use href="#pl" x="317.5" y="407.5"/><use href="#pl" x="312.5" y="404.5"/><use href="#pl" x="313.5" y="403.5"/><use href="#pl" x="299.5" y="404.5"/><use href="#pl" x="311.5" y="405.5"/><use href="#pl" x="308.5" y="408.5"/><use href="#pl" x="321.5" y="407.5"/><use href="#pl" x="312.5" y="418.5"/><use href="#pl" x="323.5" y="415.5"/><use href="#pl" x="324.5" y="406.5"/><use href="#pl" x="315.5" y="416.5"/><use href="#pl" x="311.5" y="408.5"/><use href="#pl" x="318.5" y="411.5"/><use href="#pl" x="313.5" y="415.5"/><use href="#pl" x="314.5" y="414.5"/><use href="#pl" x="324.5" y="413.5"/><use href="#pl" x="321.5" y="400.5"/><use href="#pl" x="306.5" y="404.5"/><use href="#pl" x="319.5" y="419.5"/><use href="#pl" x="306.5" y="411.5"/><use href="#pl" x="309.5" y="403.5"/><use href="#pl" x="313.5" y="413.5"/><use href="#pl" x="317.5" y="417.5"/><use href="#pl" x="308.5" y="415.5"/><use href="#pl" x="322.5" y="409.5"/><use href="#pl" x="319.5" y="405.5"/><use href="#pl" x="307.5" y="406.5"/><use href="#pl" x="311.5" y="429.5"/><use href="#pl" x="312.5" y="420.5"/><use href="#pl" x="317.5" y="411.5"/><use href="#pl" x="321.5" y="403.5"/><use href="#pl" x="322.5" y="411.5"/><use href="#pl" x="304.5" y="413.5"/><use href="#pl" x="320.5" y="412.5"/><use href="#pl" x="327.5" y="406.5"/><use href="#pl" x="319.5" y="414.5"/><use href="#pl" x="309.5" y="417.5"/><use href="#pl" x="305.5" y="399.5"/><use href="#pl" x="319.5" y="401.5"/><use href="#pl" x="315.5" y="397.5"/><use href="#pl" x="316.5" y="401.5"/><use href="#pl" x="318.5" y="398.5"/><use href="#pl" x="319.5" y="407.5"/><use href="#pl" x="316.5" y="408.5"/><use href="#pl" x="316.5" y="399.5"/><use href="#pl" x="296.5" y="409.5"/><use href="#pl" x="308.5" y="405.5"/><use href="#pl" x="319.5" y="395.5"/><use href="#pl" x="310.5" y="404.5"/><use href="#pl" x="308.5" y="411.5"/><use href="#pl" x="314.5" y="403.5"/><use href="#xx" x="197.3" y="412.3"/><use href="#xx" x="211.4" y="413.2"/><use href="#xx" x="212.2" y="413.8"/><use href="#xx" x="220.4" y="413.7"/><use href="#xx" x="198.2" y="414.1"/><use href="#xx" x="206.3" y="415.5"/><use href="#xx" x="220.3" y="411.8"/><use href="#xx" x="194.0" y="413.9"/><use href="#xx" x="212.6" y="414.8"/><use href="#xx" x="216.7" y="412.3"/><use href="#xx" x="214.0" y="415.5"/><use href="#xx" x="210.9" y="414.5"/><use href="#xx" x="199.8" y="415.5"/><use href="#xx" x="206.4" y="414.1"/><use href="#xx" x="215.8" y="415.2"/><use href="#xx" x="223.6" y="412.1"/><use href="#xx" x="203.4" y="414.1"/><use href="#xx" x="224.1" y="412.2"/><use href="#xx" x="221.9" y="414.2"/><use href="#xx" x="196.5" y="414.0"/><use href="#xx" x="225.3" y="411.8"/><use href="#xx" x="199.8" y="414.4"/><use href="#xx" x="207.7" y="412.6"/><use href="#xx" x="210.7" y="414.5"/><use href="#xx" x="210.6" y="415.3"/><use href="#xx" x="223.9" y="412.4"/><use href="#xx" x="221.1" y="415.5"/><use href="#xx" x="194.5" y="413.5"/><use href="#xx" x="221.2" y="415.5"/><use href="#xx" x="210.1" y="412.9"/><use href="#xx" x="215.6" y="414.2"/><use href="#xx" x="210.2" y="415.5"/><use href="#xx" x="199.1" y="415.5"/><use href="#xx" x="226.2" y="414.7"/><use href="#xx" x="191.6" y="414.0"/><use href="#xx" x="194.0" y="412.2"/><use href="#xx" x="199.5" y="413.9"/><use href="#xx" x="189.9" y="411.8"/><use href="#xx" x="211.8" y="415.5"/><use href="#xx" x="200.9" y="414.2"/><use href="#xx" x="222.0" y="415.2"/><use href="#xx" x="226.5" y="413.4"/><use href="#xx" x="200.1" y="415.3"/><use href="#xx" x="189.4" y="414.5"/><use href="#xx" x="195.8" y="412.0"/><use href="#xx" x="194.2" y="414.7"/><use href="#xx" x="189.8" y="414.4"/><use href="#xx" x="225.0" y="412.7"/><use href="#xx" x="222.6" y="412.5"/><use href="#xx" x="208.2" y="414.7"/><use href="#xx" x="212.9" y="412.1"/><use href="#xx" x="212.0" y="412.6"/><use href="#xx" x="224.3" y="412.1"/><use href="#xx" x="215.9" y="413.5"/><use href="#xx" x="197.3" y="412.4"/><use href="#xx" x="208.2" y="415.5"/><use href="#xx" x="209.3" y="415.0"/><use href="#xx" x="210.5" y="413.7"/><use href="#xx" x="189.0" y="412.1"/><use href="#xx" x="190.5" y="412.3"/><use href="#xx" x="212.3" y="411.8"/><use href="#xx" x="201.7" y="414.0"/><use href="#xx" x="215.3" y="413.6"/><use href="#xx" x="190.5" y="413.3"/><use href="#xx" x="214.2" y="414.6"/><use href="#xx" x="205.7" y="413.4"/><use href="#xx" x="211.0" y="413.0"/><use href="#xx" x="200.2" y="414.8"/><use href="#xx" x="202.4" y="412.6"/><use href="#xx" x="202.7" y="412.9"/><use href="#xx" x="217.9" y="415.4"/><use href="#xx" x="216.4" y="413.9"/><use href="#xx" x="200.1" y="414.0"/><use href="#xx" x="197.4" y="415.5"/><use href="#xx" x="195.4" y="411.8"/><use href="#xx" x="192.1" y="414.5"/><use href="#xx" x="200.6" y="412.3"/><use href="#xx" x="205.0" y="415.5"/><use href="#xx" x="221.1" y="414.2"/><use href="#xx" x="213.2" y="414.7"/><use href="#xx" x="222.2" y="412.6"/><use href="#xx" x="192.8" y="413.9"/><use href="#xx" x="208.5" y="414.5"/><use href="#xx" x="220.4" y="415.5"/><use href="#xx" x="194.7" y="413.1"/><use href="#xx" x="214.0" y="416.5"/><use href="#xx" x="220.9" y="413.1"/><use href="#xx" x="199.3" y="414.3"/><use href="#xx" x="220.3" y="413.4"/><use href="#xx" x="204.5" y="415.1"/><use href="#xx" x="204.6" y="410.6"/><use href="#xx" x="193.6" y="415.5"/><use href="#xx" x="187.2" y="416.7"/><use href="#xx" x="228.5" y="412.5"/><use href="#xx" x="205.2" y="417.1"/><use href="#xx" x="196.3" y="412.5"/><use href="#ci" x="197.3" y="412.3"/><use href="#ci" x="211.4" y="413.2"/><use href="#ci" x="212.2" y="413.8"/><use href="#ci" x="220.4" y="413.7"/><use href="#ci" x="198.2" y="414.1"/><use href="#ci" x="206.3" y="415.5"/><use href="#ci" x="220.3" y="411.8"/><use href="#ci" x="194.0" y="413.9"/><use href="#ci" x="212.6" y="414.8"/><use href="#ci" x="216.7" y="412.3"/><use href="#ci" x="214.0" y="415.5"/><use href="#ci" x="210.9" y="414.5"/><use href="#ci" x="199.8" y="415.5"/><use href="#ci" x="206.4" y="414.1"/><use href="#ci" x="215.8" y="415.2"/><use href="#ci" x="223.6" y="412.1"/><use href="#ci" x="203.4" y="414.1"/><use href="#ci" x="224.1" y="412.2"/><use href="#ci" x="221.9" y="414.2"/><use href="#ci" x="196.5" y="414.0"/><use href="#ci" x="225.3" y="411.8"/><use href="#ci" x="199.8" y="414.4"/><use href="#ci" x="207.7" y="412.6"/><use href="#ci" x="210.7" y="414.5"/><use href="#ci" x="210.6" y="415.3"/><use href="#ci" x="223.9" y="412.4"/><use href="#ci" x="221.1" y="415.5"/><use href="#ci" x="194.5" y="413.5"/><use href="#ci" x="221.2" y="415.5"/><use href="#ci" x="210.1" y="412.9"/><use href="#ci" x="215.6" y="414.2"/><use href="#ci" x="210.2" y="415.5"/><use href="#ci" x="199.1" y="415.5"/><use href="#ci" x="226.2" y="414.7"/><use href="#ci" x="191.6" y="414.0"/><use href="#ci" x="194.0" y="412.2"/><use href="#ci" x="199.5" y="413.9"/><use href="#ci" x="189.9" y="411.8"/><use href="#ci" x="211.8" y="415.5"/><use href="#ci" x="200.9" y="414.2"/><use href="#ci" x="222.0" y="415.2"/><use href="#ci" x="226.5" y="413.4"/><use href="#ci" x="200.1" y="415.3"/><use href="#ci" x="189.4" y="414.5"/><use href="#ci" x="195.8" y="412.0"/><use href="#ci" x="194.2" y="414.7"/><use href="#ci" x="189.8" y="414.4"/><use href="#ci" x="225.0" y="412.7"/><use href="#ci" x="222.6" y="412.5"/><use href="#ci" x="208.2" y="414.7"/><use href="#ci" x="212.9" y="412.1"/><use href="#ci" x="212.0" y="412.6"/><use href="#ci" x="224.3" y="412.1"/><use href="#ci" x="215.9" y="413.5"/><use href="#ci" x="197.3" y="412.4"/><use href="#ci" x="208.2" y="415.5"/><use href="#ci" x="209.3" y="415.0"/><use href="#ci" x="210.5" y="413.7"/><use href="#ci" x="189.0" y="412.1"/><use href="#ci" x="190.5" y="412.3"/><use href="#ci" x="212.3" y="411.8"/><use href="#ci" x="201.7" y="414.0"/><use href="#ci" x="215.3" y="413.6"/><use href="#ci" x="190.5" y="413.3"/><use href="#ci" x="214.2" y="414.6"/><use href="#ci" x="205.7" y="413.4"/><use href="#ci" x="211.0" y="413.0"/><use href="#ci" x="200.2" y="414.8"/><use href="#ci" x="202.4" y="412.6"/><use href="#ci" x="202.7" y="412.9"/><use href="#ci" x="217.9" y="415.4"/><use href="#ci" x="216.4" y="413.9"/><use href="#ci" x="200.1" y="414.0"/><use href="#ci" x="197.4" y="415.5"/><use href="#ci" x="195.4" y="411.8"/><use href="#ci" x="192.1" y="414.5"/><use href="#ci" x="200.6" y="412.3"/><use href="#ci" x="205.0" y="415.5"/><use href="#ci" x="221.1" y="414.2"/><use href="#ci" x="213.2" y="414.7"/><use href="#ci" x="222.2" y="412.6"/><use href="#ci" x="192.8" y="413.9"/><use href="#ci" x="208.5" y="414.5"/><use href="#ci" x="220.4" y="415.5"/><path d="M100.6 414.5H381.82" stroke="#00f" stroke-width="1.39" stroke-dasharray="8.33 8.33" fill="none"/><path d="M100.6 413.5H381.82" stroke="#f00" stroke-width="1.39" stroke-dasharray="8.33 8.33" fill="none"/><path d="M100.6 410.5H381.82M100.6 416.5H381.82" stroke="#00f" stroke-width="1.39" stroke-dasharray="4.17 6.94 1.39 6.94" fill="none"/>
</g>
<path d="M100.50 540.50v-6.30M138.50 540.50v-6.30M175.50 540.50v-6.30M213.50 540.50v-6.30M250.50 540.50v-6.30M288.50 540.50v-6.30M325.50 540.50v-6.30M363.50 540.50v-6.30M119.50 60.50v6.30M156.50 60.50v6.30M194.50 60.50v6.30M232.50 60.50v6.30M269.50 60.50v6.30M307.50 60.50v6.30M344.50 60.50v6.30M382.50 60.50v6.30M100.50 540.50h6.30M382.50 540.50h-6.30M100.50 420.50h6.30M382.50 420.50h-6.30M100.50 300.50h6.30M382.50 300.50h-6.30M100.50 180.50h6.30M382.50 180.50h-6.30M100.50 60.50h6.30M382.50 60.50h-6.30" stroke="#000" stroke-width="0.65" fill="none"/>
<rect x="100.50" y="60.50" width="282.00" height="480.00" fill="none" stroke="#000" stroke-width="1.39"/>
<text y="560.00" font-size="18.20"><tspan x="83.62" textLength="33.26" lengthAdjust="spacingAndGlyphs">−20</tspan></text>
<text y="560.00" font-size="18.20"><tspan x="121.19" textLength="33.33" lengthAdjust="spacingAndGlyphs">−18</tspan></text>
<text y="560.00" font-size="18.20"><tspan x="158.77" textLength="33.40" lengthAdjust="spacingAndGlyphs">−16</tspan></text>
<text y="560.00" font-size="18.20"><tspan x="196.35" textLength="33.24" lengthAdjust="spacingAndGlyphs">−14</tspan></text>
<text y="560.00" font-size="18.20"><tspan x="233.94" textLength="32.88" lengthAdjust="spacingAndGlyphs">−12</tspan></text>
<text y="560.00" font-size="18.20"><tspan x="271.50" textLength="33.26" lengthAdjust="spacingAndGlyphs">−10</tspan></text>
<text y="560.00" font-size="18.20"><tspan x="314.36" textLength="22.74" lengthAdjust="spacingAndGlyphs">−8</tspan></text>
<text y="560.00" font-size="18.20"><tspan x="351.94" textLength="22.80" lengthAdjust="spacingAndGlyphs">−6</tspan></text>
<text y="50.00" font-size="18.20"><tspan x="108.47" textLength="19.57" lengthAdjust="spacingAndGlyphs">14</tspan></text>
<text y="50.00" font-size="18.20"><tspan x="146.03" textLength="19.70" lengthAdjust="spacingAndGlyphs">16</tspan></text>
<text y="50.00" font-size="18.20"><tspan x="183.61" textLength="19.63" lengthAdjust="spacingAndGlyphs">18</tspan></text>
<text y="50.00" font-size="18.20"><tspan x="221.05" textLength="19.71" lengthAdjust="spacingAndGlyphs">20</tspan></text>
<text y="50.00" font-size="18.20"><tspan x="258.64" textLength="19.29" lengthAdjust="spacingAndGlyphs">22</tspan></text>
<text y="50.00" font-size="18.20"><tspan x="296.20" textLength="19.72" lengthAdjust="spacingAndGlyphs">24</tspan></text>
<text y="50.00" font-size="18.20"><tspan x="333.77" textLength="19.85" lengthAdjust="spacingAndGlyphs">26</tspan></text>
<text y="50.00" font-size="18.20"><tspan x="371.35" textLength="19.78" lengthAdjust="spacingAndGlyphs">28</tspan></text>
<text y="544.90" font-size="18.20"><tspan x="85.52" textLength="8.83" lengthAdjust="spacingAndGlyphs">0</tspan></text>
<text y="424.90" font-size="18.20"><tspan x="85.69" textLength="8.30" lengthAdjust="spacingAndGlyphs">5</tspan></text>
<text y="304.90" font-size="18.20"><tspan x="74.87" textLength="19.56" lengthAdjust="spacingAndGlyphs">10</tspan></text>
<text y="64.90" font-size="18.20"><tspan x="74.73" textLength="19.71" lengthAdjust="spacingAndGlyphs">20</tspan></text>
<text y="28.90" font-size="21.10"><tspan x="119.07" textLength="62.56" lengthAdjust="spacingAndGlyphs">FWHM</tspan> <tspan x="189.30" textLength="21.01" lengthAdjust="spacingAndGlyphs">vs</tspan> <tspan x="217.62" textLength="117.73" lengthAdjust="spacingAndGlyphs">magnitudes</tspan></text>
<text y="583.60" font-size="18.80"><tspan x="96.07" textLength="89.49" lengthAdjust="spacingAndGlyphs">magnitude</tspan> <tspan x="191.46" textLength="101.93" lengthAdjust="spacingAndGlyphs">(bottom:isnt</tspan> <tspan x="299.29" textLength="5.26" lengthAdjust="spacingAndGlyphs">/</tspan> <tspan x="310.31" textLength="77.85" lengthAdjust="spacingAndGlyphs">top:calib)</tspan></text>
<text y="300.00" font-size="18.80" transform="rotate(-90 63.60 300.00)"><tspan x="15.85" textLength="52.10" lengthAdjust="spacingAndGlyphs">FWHM</tspan> <tspan x="74.10" textLength="37.13" lengthAdjust="spacingAndGlyphs">(pix)</tspan></text>
</g>
<g id="right-axes">
<rect x="438.18" y="60.00" width="281.82" height="480.00" fill="#fff"/>
<rect x="438.50" y="398.50" width="0.00" height="57.00" fill="#0000ff" stroke="#000" stroke-width="1.39"/>
<rect x="438.50" y="341.50" width="4.00" height="57.00" fill="#0000ff" stroke="#000" stroke-width="1.39"/>
<rect x="438.50" y="283.50" width="208.00" height="58.00" fill="#0000ff" stroke="#000" stroke-width="1.39"/>
<rect x="438.50" y="226.50" width="6.00" height="57.00" fill="#0000ff" stroke="#000" stroke-width="1.39"/>
<path d="M438.58 314.5H680.14" stroke="#000" stroke-width="1.39" stroke-dasharray="8.33 8.33" fill="none"/>
<path d="M438.50 540.50v-6.30M438.50 60.50v6.30M478.50 540.50v-6.30M478.50 60.50v6.30M519.50 540.50v-6.30M519.50 60.50v6.30M559.50 540.50v-6.30M559.50 60.50v6.30M599.50 540.50v-6.30M599.50 60.50v6.30M639.50 540.50v-6.30M639.50 60.50v6.30M680.50 540.50v-6.30M680.50 60.50v6.30M720.50 540.50v-6.30M720.50 60.50v6.30M438.50 540.50h6.30M720.50 540.50h-6.30M438.50 487.50h6.30M720.50 487.50h-6.30M438.50 433.50h6.30M720.50 433.50h-6.30M438.50 380.50h6.30M720.50 380.50h-6.30M438.50 327.50h6.30M720.50 327.50h-6.30M438.50 273.50h6.30M720.50 273.50h-6.30M438.50 220.50h6.30M720.50 220.50h-6.30M438.50 167.50h6.30M720.50 167.50h-6.30M438.50 113.50h6.30M720.50 113.50h-6.30M438.50 60.50h6.30M720.50 60.50h-6.30" stroke="#000" stroke-width="0.65" fill="none"/>
<rect x="438.50" y="60.50" width="282.00" height="480.00" fill="none" stroke="#000" stroke-width="1.39"/>
<text y="560.00" font-size="18.20"><tspan x="433.80" textLength="8.83" lengthAdjust="spacingAndGlyphs">0</tspan></text>
<text y="560.00" font-size="18.20"><tspan x="468.57" textLength="19.71" lengthAdjust="spacingAndGlyphs">20</tspan></text>
<text y="560.00" font-size="18.20"><tspan x="508.88" textLength="19.66" lengthAdjust="spacingAndGlyphs">40</tspan></text>
<text y="560.00" font-size="18.20"><tspan x="549.03" textLength="19.78" lengthAdjust="spacingAndGlyphs">60</tspan></text>
<text y="560.00" font-size="18.20"><tspan x="589.35" textLength="19.71" lengthAdjust="spacingAndGlyphs">80</tspan></text>
<text y="560.00" font-size="18.20"><tspan x="624.42" textLength="30.18" lengthAdjust="spacingAndGlyphs">100</tspan></text>
<text y="560.00" font-size="18.20"><tspan x="664.68" textLength="30.18" lengthAdjust="spacingAndGlyphs">120</tspan></text>
<text y="560.00" font-size="18.20"><tspan x="704.94" textLength="30.18" lengthAdjust="spacingAndGlyphs">140</tspan></text>
<text y="545.20" font-size="18.20"><tspan x="408.25" textLength="24.92" lengthAdjust="spacingAndGlyphs">4.4</tspan></text>
<text y="491.87" font-size="18.20"><tspan x="408.25" textLength="25.05" lengthAdjust="spacingAndGlyphs">4.6</tspan></text>
<text y="438.53" font-size="18.20"><tspan x="408.25" textLength="24.98" lengthAdjust="spacingAndGlyphs">4.8</tspan></text>
<text y="385.20" font-size="18.20"><tspan x="408.45" textLength="24.71" lengthAdjust="spacingAndGlyphs">5.0</tspan></text>
<text y="331.87" font-size="18.20"><tspan x="408.47" textLength="24.31" lengthAdjust="spacingAndGlyphs">5.2</tspan></text>
<text y="278.53" font-size="18.20"><tspan x="408.45" textLength="24.72" lengthAdjust="spacingAndGlyphs">5.4</tspan></text>
<text y="225.20" font-size="18.20"><tspan x="408.45" textLength="24.85" lengthAdjust="spacingAndGlyphs">5.6</tspan></text>
<text y="171.87" font-size="18.20"><tspan x="408.45" textLength="24.78" lengthAdjust="spacingAndGlyphs">5.8</tspan></text>
<text y="118.53" font-size="18.20"><tspan x="408.13" textLength="25.04" lengthAdjust="spacingAndGlyphs">6.0</tspan></text>
<text y="65.20" font-size="18.20"><tspan x="408.15" textLength="24.64" lengthAdjust="spacingAndGlyphs">6.2</tspan></text>
<text y="53.20" font-size="21.10"><tspan x="481.67" textLength="100.54" lengthAdjust="spacingAndGlyphs">histogram</tspan> <tspan x="589.34" textLength="19.08" lengthAdjust="spacingAndGlyphs">of</tspan> <tspan x="615.07" textLength="62.56" lengthAdjust="spacingAndGlyphs">FWHM</tspan></text>
<text y="583.60" font-size="18.80"><tspan x="501.65" textLength="64.74" lengthAdjust="spacingAndGlyphs">number</tspan> <tspan x="571.85" textLength="15.85" lengthAdjust="spacingAndGlyphs">of</tspan> <tspan x="593.41" textLength="63.13" lengthAdjust="spacingAndGlyphs">sources</tspan></text>
<text y="299.80" font-size="18.80" transform="rotate(-90 396.20 299.80)"><tspan x="243.40" textLength="52.10" lengthAdjust="spacingAndGlyphs">FWHM</tspan> <tspan x="301.54" textLength="15.85" lengthAdjust="spacingAndGlyphs">of</tspan> <tspan x="323.04" textLength="86.49" lengthAdjust="spacingAndGlyphs">best-effort</tspan> <tspan x="415.60" textLength="64.08" lengthAdjust="spacingAndGlyphs">PSF-like</tspan> <tspan x="485.79" textLength="63.13" lengthAdjust="spacingAndGlyphs">sources</tspan></text>
</g>
<g id="legend">
<rect x="27.6" y="70.5" width="345" height="179.9" fill="#fff" stroke="#000" stroke-width="1.39"/>
<use href="#pl" x="41.60" y="86.50"/>
<use href="#pl" x="69.40" y="86.50"/>
<text y="92.50" font-size="21.10"><tspan x="91.56" textLength="22.34" lengthAdjust="spacingAndGlyphs">all</tspan> <tspan x="121.44" textLength="71.83" lengthAdjust="spacingAndGlyphs">sample</tspan></text>
<use href="#xx" x="41.60" y="115.50"/>
<use href="#xx" x="69.40" y="115.50"/>
<text y="121.40" font-size="21.10"><tspan x="91.70" textLength="71.83" lengthAdjust="spacingAndGlyphs">sample</tspan> <tspan x="170.48" textLength="27.35" lengthAdjust="spacingAndGlyphs">for</tspan> <tspan x="204.61" textLength="57.03" lengthAdjust="spacingAndGlyphs">rough</tspan> <tspan x="268.94" textLength="62.56" lengthAdjust="spacingAndGlyphs">FWHM</tspan></text>
<use href="#ci" x="41.60" y="144.50"/>
<use href="#ci" x="69.40" y="144.50"/>
<text y="150.30" font-size="21.10"><tspan x="91.60" textLength="103.86" lengthAdjust="spacingAndGlyphs">best-effort</tspan> <tspan x="202.80" textLength="76.91" lengthAdjust="spacingAndGlyphs">PSF-like</tspan> <tspan x="287.09" textLength="71.83" lengthAdjust="spacingAndGlyphs">sample</tspan></text>
<path d="M41.6 173.50H69.4" stroke="#00f" stroke-width="1.39" stroke-dasharray="8.33 8.33"/>
<text y="179.20" font-size="21.10"><tspan x="91.61" textLength="88.36" lengthAdjust="spacingAndGlyphs">resultant</tspan> <tspan x="187.26" textLength="69.15" lengthAdjust="spacingAndGlyphs">FWHM:</tspan> <tspan x="264.34" textLength="42.67" lengthAdjust="spacingAndGlyphs">5.25</tspan></text>
<path d="M41.6 202.50H69.4" stroke="#f00" stroke-width="1.39" stroke-dasharray="8.33 8.33"/>
<text y="208.10" font-size="21.10"><tspan x="91.57" textLength="74.13" lengthAdjust="spacingAndGlyphs">median</tspan> <tspan x="172.91" textLength="62.56" lengthAdjust="spacingAndGlyphs">FHWM</tspan> <tspan x="242.76" textLength="19.08" lengthAdjust="spacingAndGlyphs">of</tspan> <tspan x="268.63" textLength="95.49" lengthAdjust="spacingAndGlyphs">sequence</tspan></text>
<path d="M41.6 231.50H69.4" stroke="#00f" stroke-width="1.39" stroke-dasharray="4.17 6.94 1.39 6.94"/>
<text y="237.00" font-size="21.10"><tspan x="91.72" textLength="57.71" lengthAdjust="spacingAndGlyphs">sigma</tspan> <tspan x="158.43" textLength="57.33" lengthAdjust="spacingAndGlyphs">range</tspan></text>
</g>
</svg>
</body>
</html>
